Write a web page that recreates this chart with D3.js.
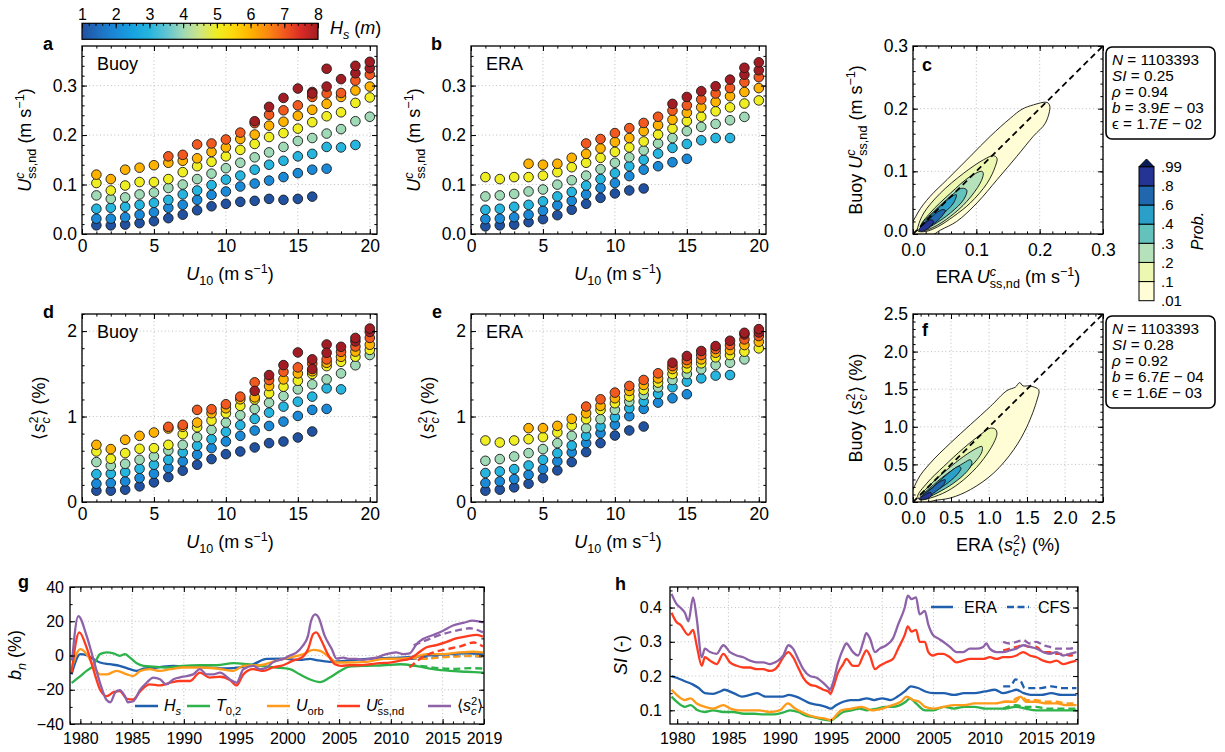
<!DOCTYPE html>
<html>
<head>
<meta charset="utf-8">
<script src="https://cdn.jsdelivr.net/npm/d3@7"></script>
<style>
  body { margin: 0; background: #fff; }
  svg { font-family: "Liberation Sans", Arial, Helvetica, sans-serif; }
  svg text { white-space: pre; }
</style>
</head>
<body>
<svg id="fig" width="1225" height="752"></svg>
<script>
// ---------------- data ----------------
const u10 = [1,2,3,4,5,6,7,8,9,10,11,12,13,14,15,16,17,18,19,20];
const hsBins = [1,2,3,4,5,6,7,8,9];

// bin means, one row per Hs bin (null = empty bin)
const buoyUss = [
  [0.0175,0.0175,0.019,0.022,0.026,0.032,0.039,0.048,0.056,0.061,0.065,0.067,0.071,0.069,0.071,0.0755,null,null,null,null],
  [0.031,0.031,0.034,0.039,0.044,0.053,0.059,0.069,0.079,0.086,0.096,0.102,0.108,0.115,0.123,0.130,0.132,null,null,null],
  [0.051,0.053,0.055,0.059,0.063,0.069,0.080,0.088,0.099,0.110,0.118,0.130,0.140,0.148,0.157,0.162,0.176,0.175,0.180,null],
  [0.078,0.071,0.074,0.080,0.084,0.093,0.100,0.111,0.122,0.133,0.144,0.155,0.165,0.176,0.188,0.194,0.203,0.212,0.228,0.237],
  [0.103,0.088,0.098,0.105,0.105,0.111,0.125,0.137,0.146,0.157,0.170,0.182,0.196,0.204,0.213,0.226,0.238,0.246,0.265,0.276],
  [0.120,0.111,0.130,0.134,0.139,0.144,0.148,0.153,0.166,0.175,0.192,0.201,0.219,0.227,0.239,0.251,0.263,0.277,0.290,0.298],
  [null,null,null,null,null,0.157,0.160,0.181,0.183,0.191,0.205,0.224,0.241,0.250,0.260,0.277,0.284,0.285,0.310,0.322],
  [null,null,null,null,null,null,null,null,null,null,null,0.228,0.257,0.275,0.294,0.287,0.298,0.313,0.325,0.335],
  [null,null,null,null,null,null,null,null,null,null,null,null,null,null,null,0.284,0.334,null,0.340,0.348]
];
const eraUss = [
  [0.0155,0.0175,0.019,0.024,0.030,0.038,0.049,0.061,0.073,0.082,0.088,0.092,null,null,null,null,null,null,null,null],
  [0.030,0.031,0.034,0.039,0.047,0.058,0.067,0.080,0.093,0.103,0.117,0.130,0.137,0.145,0.152,null,null,null,null,null],
  [0.049,0.051,0.055,0.059,0.066,0.076,0.085,0.098,0.111,0.123,0.137,0.150,0.1625,0.174,0.182,0.1895,0.194,0.194,null,null],
  [0.076,0.078,0.081,0.086,0.090,0.0998,0.1086,0.118,0.131,0.144,0.155,0.169,0.183,0.194,0.208,0.2165,0.2225,0.230,0.2367,null],
  [0.115,0.111,0.115,0.115,0.118,0.125,0.135,0.144,0.154,0.166,0.175,0.187,0.201,0.213,0.228,0.237,0.248,0.256,0.2637,0.270],
  [null,null,null,0.142,0.140,0.142,0.154,0.162,0.173,0.186,0.194,0.208,0.220,0.231,0.245,0.256,0.267,0.2785,0.287,0.295],
  [null,null,null,null,null,null,null,0.183,0.192,0.204,0.214,0.2245,0.237,0.2495,0.260,0.272,0.284,0.295,0.307,0.317],
  [null,null,null,null,null,null,null,null,null,null,null,null,null,0.263,0.277,0.2886,0.2987,0.312,0.322,0.331],
  [null,null,null,null,null,null,null,null,null,null,null,null,null,null,null,null,null,null,0.336,0.347]
];
const buoyMss = [
  [0.132,0.132,0.144,0.183,0.230,0.292,0.366,0.436,0.502,0.560,0.591,0.638,0.689,0.708,0.755,0.825,null,null,null,null],
  [0.214,0.222,0.241,0.280,0.331,0.397,0.475,0.553,0.630,0.708,0.774,0.836,0.890,0.941,1.007,1.078,1.089,null,null,null],
  [0.327,0.331,0.350,0.389,0.436,0.494,0.580,0.658,0.735,0.821,0.899,0.972,1.046,1.116,1.174,1.233,1.330,1.318,null,null],
  [0.467,0.424,0.447,0.494,0.533,0.603,0.669,0.759,0.844,0.930,1.016,1.089,1.162,1.240,1.318,1.377,1.435,1.505,1.600,1.720],
  [0.591,0.506,0.572,0.623,0.630,0.669,0.794,0.875,0.953,1.039,1.125,1.200,1.272,1.349,1.419,1.498,1.590,1.641,1.700,1.780],
  [0.669,0.619,0.728,0.774,0.813,0.860,0.880,0.930,1.039,1.097,1.202,1.225,1.357,1.435,1.505,1.530,1.629,1.699,1.760,1.840],
  [null,null,null,null,null,0.880,0.903,1.078,1.086,1.144,1.233,1.400,1.427,1.524,1.575,1.620,1.669,1.757,1.820,1.920],
  [null,null,null,null,null,null,null,null,null,null,null,1.300,1.485,1.602,1.750,1.669,1.843,1.816,1.880,1.990],
  [null,null,null,null,null,null,null,null,null,null,null,null,null,null,null,1.556,1.746,null,1.920,2.030]
];
const eraMss = [
  [0.132,0.144,0.171,0.214,0.280,0.370,0.467,0.584,0.689,0.778,0.837,0.883,null,null,null,null,null,null,null,null],
  [0.222,0.241,0.268,0.319,0.385,0.475,0.580,0.689,0.805,0.903,1.004,1.089,1.163,1.214,1.261,null,null,null,null,null],
  [0.339,0.358,0.385,0.428,0.494,0.572,0.661,0.774,0.883,0.992,1.097,1.175,1.265,1.342,1.409,1.447,1.479,1.486,null,null],
  [0.482,0.502,0.533,0.572,0.619,0.689,0.774,0.864,0.969,1.078,1.175,1.253,1.342,1.428,1.498,1.553,1.603,1.630,1.669,null],
  [0.720,0.696,0.720,0.735,0.759,0.813,0.895,0.969,1.078,1.156,1.233,1.311,1.397,1.498,1.564,1.623,1.693,1.720,1.759,1.798],
  [null,null,null,0.864,0.864,0.891,0.973,1.039,1.125,1.214,1.300,1.370,1.447,1.556,1.623,1.669,1.747,1.778,1.837,1.875],
  [null,null,null,null,null,null,null,1.117,1.202,1.280,1.358,1.428,1.506,1.591,1.661,1.720,1.790,1.837,1.903,1.942],
  [null,null,null,null,null,null,null,null,null,null,null,null,null,1.630,1.708,1.767,1.825,1.887,1.961,1.984],
  [null,null,null,null,null,null,null,null,null,null,null,null,null,null,null,null,null,null,1.980,2.023]
];

// Hs colour map
const hsStops = [1,1.5,2,2.5,3,3.5,4,4.5,5,5.5,6,6.5,7,7.5,8];
const hsColors = ["#2151a1","#1f6fc0","#1a8ad8","#17a2e0","#25b5df","#5fc5d2","#9fd9b6","#cfe684",
                  "#efee22","#fdd70c","#ffb300","#f98a10","#f2591e","#d92b25","#a11d23"];
const hsTicks = [1,2,3,4,5,6,7,8];

// joint pdf contour outlines (ERA x, Buoy y)
const probLevels = [".01",".1",".2",".3",".4",".6",".8",".99"];
const probColors = ["#fffdd6","#ecf7b1","#b5e2ba","#64c2bd","#2aa0c8","#2167ad","#253494"];
const ussContours = [
  [[-0.01,-0.01],[0.0074,0.0335],[0.027,0.060],[0.054,0.087],[0.0905,0.124],[0.122,0.156],[0.154,0.185],[0.172,0.199],[0.19,0.206],[0.2116,0.210],[0.216,0.204],[0.209,0.177],[0.19,0.156],[0.164,0.124],[0.133,0.087],[0.101,0.0495],[0.069,0.020],[0.043,0.006],[0.025,-0.005]],
  [[0.008,0.012],[0.017,0.0335],[0.043,0.065],[0.08,0.097],[0.1116,0.1186],[0.127,0.125],[0.1326,0.121],[0.13,0.108],[0.117,0.081],[0.0905,0.0495],[0.064,0.028],[0.038,0.011],[0.0195,0.004],[0.0074,0.005]],
  [[0.012,0.012],[0.027,0.0335],[0.059,0.065],[0.0905,0.092],[0.109,0.1],[0.111,0.096],[0.106,0.081],[0.085,0.052],[0.059,0.028],[0.033,0.011],[0.017,0.006]],
  [[0.014,0.015],[0.033,0.036],[0.059,0.060],[0.077,0.073],[0.085,0.070],[0.08,0.055],[0.059,0.0335],[0.033,0.015],[0.0195,0.008]],
  [[0.017,0.015],[0.038,0.039],[0.0616,0.060],[0.0684,0.0628],[0.064,0.0495],[0.043,0.028],[0.025,0.012]],
  [[0.0158,0.0122],[0.030,0.028],[0.0458,0.0388],[0.051,0.0378],[0.0432,0.0255],[0.0274,0.0133]],
  [[0.0089,0.0059],[0.0195,0.0176],[0.0274,0.0229],[0.0326,0.0202],[0.0247,0.0096],[0.0142,0.0043]]
];
const mssContours = [
  [[-0.05,-0.05],[0.061,0.296],[0.228,0.518],[0.491,0.783],[0.754,1.027],[1.018,1.27],[1.237,1.482],[1.346,1.527],[1.404,1.588],[1.447,1.544],[1.535,1.544],[1.654,1.491],[1.632,1.358],[1.5,1.004],[1.325,0.695],[1.061,0.385],[0.754,0.164],[0.491,0.053],[0.272,0.018],[0.1,-0.03]],
  [[0.061,0.075],[0.184,0.252],[0.404,0.473],[0.667,0.717],[0.886,0.894],[1.018,0.982],[1.083,0.969],[1.105,0.916],[1.061,0.783],[0.886,0.518],[0.667,0.296],[0.447,0.142],[0.228,0.053],[0.096,0.031]],
  [[0.096,0.075],[0.228,0.23],[0.447,0.429],[0.667,0.606],[0.842,0.717],[0.908,0.739],[0.908,0.673],[0.842,0.562],[0.667,0.385],[0.447,0.208],[0.228,0.085]],
  [[0.118,0.075],[0.272,0.23],[0.491,0.407],[0.667,0.518],[0.754,0.562],[0.776,0.518],[0.711,0.407],[0.535,0.252],[0.316,0.119],[0.162,0.053]],
  [[0.132,0.084],[0.272,0.208],[0.469,0.385],[0.6,0.473],[0.632,0.451],[0.579,0.363],[0.425,0.23],[0.25,0.119],[0.162,0.066]],
  [[0.118,0.075],[0.228,0.164],[0.36,0.274],[0.425,0.296],[0.404,0.23],[0.272,0.119],[0.162,0.053]],
  [[0.075,0.04],[0.162,0.097],[0.228,0.128],[0.25,0.097],[0.184,0.044]]
];
const ussStats = ["1103393","0.25","0.94","3.9","03","1.7","02"];
const mssStats = ["1103393","0.28","0.92","6.7","04","1.6","03"];

// normalised bias b_n (%), ERA (solid) and CFS (dashed), [year, value]
const biasHs = [[1979.15,-11],[1980,0.8],[1980.6,0.2],[1981.25,-2],[1981.9,-4.1],[1982.85,-5.1],[1983.8,-6],[1984.8,-8],[1985.45,-9],[1986.1,-7.6],[1987.4,-7],[1989,-6],[1990.6,-6.5],[1992.2,-7],[1994.15,-7.6],[1995.4,-7],[1996.7,-5.1],[1998,-2],[1999.6,-1.8],[2001.2,-2.6],[2002.2,-2],[2002.8,-2.7],[2004.1,-3.7],[2005.7,-3],[2007.65,-2],[2009.25,-1.6],[2010.9,-1.2],[2012.5,-0.6],[2014.1,0.2],[2015.7,0.8],[2017.3,1.2],[2018.9,0.8]];
const biasT02 = [[1979.15,-16],[1980,-12],[1980.6,-9],[1981.25,-6],[1981.9,0.8],[1982.55,1.8],[1983.2,1.2],[1983.8,-0.2],[1984.3,0.8],[1984.8,-1.2],[1985.45,-4.5],[1986.1,-6],[1987.05,-6.5],[1988.3,-7],[1989.9,-6],[1991.55,-5.7],[1993.2,-5.7],[1994.8,-4.5],[1996.1,-5.1],[1997.35,-6],[1998.95,-7],[2000.25,-8],[2001.2,-11],[2002.2,-14],[2003.15,-15.5],[2004.1,-12.9],[2005.1,-9],[2006,-6.5],[2007.65,-6],[2009.25,-5.7],[2010.9,-5.1],[2012.5,-6.2],[2014.1,-8],[2015.7,-9],[2017.3,-9.5],[2018.9,-10]];
const biasUorb = [[1979.15,-8],[1980,3.7],[1980.6,0.8],[1981.25,-6],[1981.9,-11],[1982.55,-11],[1983.5,-9],[1984.5,-11],[1985.1,-12],[1985.8,-9],[1986.7,-8],[1987.7,-9],[1988.7,-8],[1989.9,-7],[1991.55,-7],[1993.2,-7.6],[1994.8,-9],[1995.75,-6],[1997.35,-5.7],[1998.95,-3],[2000.25,-1.2],[2001.55,0.8],[2002.5,3.3],[2003.15,2.7],[2004.1,-1.2],[2004.75,-4.1],[2006,-4.1],[2007.65,-3.7],[2009.25,-2],[2010.9,-1.8],[2012.15,-1.2],[2013.45,0.8],[2015.05,0.8],[2016.65,1.8],[2017.95,2.2],[2018.9,1.8]];
const biasUss = [[1979.15,-10],[1979.9,13.5],[1980.6,4.7],[1981.25,-8],[1981.9,-19.8],[1982.55,-23.7],[1983.2,-21.4],[1983.8,-20.8],[1984.5,-25.3],[1985.1,-25.7],[1985.8,-20.8],[1986.7,-16.9],[1987.7,-17.5],[1988.7,-15.9],[1989.6,-14.9],[1990.6,-14.9],[1991.55,-10],[1992.5,-12.9],[1993.5,-12.4],[1994.45,-14.3],[1995.1,-17.5],[1995.75,-11],[1996.7,-8],[1997.7,-9],[1998.6,-7],[1999.6,-5.7],[2000.55,-3],[2001.4,-1.2],[2002,3.7],[2002.5,12.5],[2002.8,13.5],[2003.3,8.6],[2003.9,0.8],[2004.6,-5.1],[2005.2,-6],[2006,-5.7],[2007,-5.7],[2008,-5.1],[2008.9,-4.5],[2009.9,-4.1],[2010.9,-3],[2011.8,-2],[2012.5,0.8],[2013.4,4.7],[2014.4,6.1],[2015.4,8],[2016.3,10],[2017.3,11.2],[2018.3,12],[2018.9,11]];
const biasMss = [[1979.2,-3],[1979.8,23],[1980.6,11.6],[1981.25,-2],[1981.9,-16],[1982.5,-25.7],[1982.9,-27.3],[1983.35,-21.8],[1983.8,-20.2],[1984.3,-23.7],[1984.6,-27.3],[1985.1,-26.7],[1985.8,-19.8],[1986.4,-15.9],[1987.05,-12.9],[1987.7,-13.9],[1988.3,-16.9],[1989,-13.9],[1989.9,-12.4],[1990.9,-11],[1991.55,-8],[1992.2,-11],[1992.85,-11],[1993.5,-10],[1994.45,-14],[1995.1,-15.9],[1995.75,-8],[1996.7,-6],[1997.35,-8],[1998,-7],[1998.6,-4],[1999.6,-2],[2000.25,0],[2000.9,1.8],[2001.5,5.7],[2002,11.6],[2002.3,20.4],[2002.7,24],[2003,22.4],[2003.6,11.6],[2004.3,3.7],[2004.75,-1.8],[2005.4,-1.2],[2006,-2],[2006.7,-2],[2007.3,-2.6],[2008,-1.8],[2008.6,-1.2],[2009.25,0.2],[2009.9,1.2],[2010.5,1.8],[2011.2,0.8],[2011.8,1.2],[2012.5,6.7],[2013.1,9.6],[2014.1,12],[2015.05,14.5],[2016,17.5],[2017,19],[2017.9,20.4],[2018.9,19.4]];
const biasHsCfs = [[2011.8,-2],[2013.8,-1.4],[2015.4,-0.6],[2017,-0.2],[2018.9,-0.6]];
const biasT02Cfs = [[2011.8,-5.7],[2013.1,-6.2],[2014.7,-7.5],[2016.3,-7.8],[2017.6,-7.4],[2018.9,-7.6]];
const biasUorbCfs = [[2011.8,-1.2],[2013.1,-2],[2014.7,-1.2],[2016.3,-0.6],[2017.6,-0.2],[2018.9,-0.6]];
const biasUssCfs = [[2011.8,-7],[2012.8,-2],[2014.1,1.8],[2015.4,3.7],[2016.7,5.3],[2018,7.6],[2018.9,5.3]];
const biasMssCfs = [[2012.2,6],[2013.7,9.6],[2015,12.5],[2016.3,14.5],[2017.6,15.9],[2018.9,13.5]];

// scatter index SI (-)
const siHs = [[1979.45,0.20],[1979.95,0.195],[1980.75,0.185],[1981.55,0.175],[1982.1,0.165],[1982.7,0.15],[1983.5,0.148],[1984.2,0.155],[1984.6,0.16],[1985.5,0.15],[1986.3,0.14],[1987.1,0.145],[1987.8,0.15],[1988.6,0.14],[1989.5,0.14],[1990.3,0.14],[1990.9,0.145],[1991.6,0.14],[1992.3,0.13],[1993,0.12],[1993.9,0.115],[1994.5,0.11],[1995,0.105],[1995.5,0.115],[1996.2,0.125],[1996.9,0.13],[1997.7,0.13],[1998.5,0.135],[1999.2,0.13],[2000,0.135],[2000.8,0.13],[2001.5,0.14],[2002.2,0.155],[2002.8,0.17],[2003.5,0.165],[2004.2,0.155],[2005,0.15],[2006,0.15],[2007,0.145],[2008,0.15],[2009,0.15],[2010,0.155],[2011,0.16],[2011.8,0.15],[2012.5,0.155],[2013.1,0.16],[2013.8,0.15],[2014.5,0.145],[2015.5,0.145],[2016.5,0.15],[2017.5,0.145],[2018.95,0.145]];
const siT02 = [[1979.45,0.14],[1979.95,0.125],[1980.75,0.11],[1981.3,0.115],[1982,0.10],[1982.7,0.095],[1983.5,0.10],[1984.5,0.095],[1985.5,0.095],[1986.5,0.09],[1987.5,0.09],[1988.5,0.088],[1989.5,0.088],[1990.5,0.095],[1991,0.10],[1991.8,0.095],[1992.5,0.085],[1993.3,0.08],[1994.3,0.073],[1995,0.07],[1995.5,0.08],[1996.2,0.095],[1997,0.10],[1997.8,0.105],[1998.5,0.10],[1999.5,0.105],[2000.3,0.11],[2001,0.11],[2002.3,0.125],[2002.7,0.135],[2003.3,0.12],[2004.2,0.10],[2005,0.10],[2006,0.11],[2007,0.105],[2008,0.11],[2009,0.11],[2010,0.105],[2011,0.105],[2012,0.105],[2013,0.11],[2014,0.105],[2015,0.10],[2016,0.10],[2017,0.10],[2018,0.10],[2018.95,0.10]];
const siUorb = [[1979.45,0.16],[1979.95,0.145],[1980.75,0.13],[1981.3,0.135],[1981.9,0.12],[1982.7,0.11],[1983.5,0.105],[1984.5,0.115],[1985.2,0.105],[1986,0.10],[1987,0.10],[1988,0.10],[1989,0.095],[1990,0.10],[1990.8,0.12],[1991.5,0.105],[1992.5,0.09],[1993.5,0.08],[1994.5,0.075],[1995,0.072],[1995.5,0.085],[1996,0.10],[1997,0.105],[1998,0.11],[1999,0.10],[2000,0.105],[2001,0.115],[2001.8,0.125],[2002.4,0.14],[2003,0.13],[2003.6,0.125],[2004.2,0.11],[2005,0.105],[2006,0.11],[2007,0.115],[2008,0.115],[2009,0.12],[2010,0.12],[2011,0.12],[2012,0.125],[2013,0.125],[2013.5,0.14],[2014,0.125],[2015,0.125],[2016,0.12],[2017,0.12],[2018,0.115],[2018.95,0.115]];
const siUss = [[1979.45,0.385],[1979.95,0.357],[1980.3,0.35],[1981.1,0.32],[1981.55,0.335],[1981.9,0.29],[1982.4,0.23],[1982.7,0.255],[1983.2,0.245],[1983.85,0.235],[1984.5,0.265],[1985.15,0.24],[1985.8,0.23],[1986.45,0.225],[1987.1,0.225],[1987.75,0.22],[1988.4,0.22],[1989.05,0.215],[1989.55,0.22],[1989.85,0.23],[1990.35,0.255],[1990.85,0.27],[1991.3,0.255],[1991.8,0.225],[1992.3,0.195],[1992.95,0.175],[1993.6,0.17],[1994.25,0.16],[1994.75,0.155],[1994.95,0.148],[1995.2,0.165],[1995.7,0.21],[1996.2,0.235],[1996.5,0.25],[1997.15,0.23],[1997.65,0.23],[1998.15,0.26],[1998.45,0.275],[1998.8,0.26],[1999.3,0.22],[1999.75,0.23],[2000.4,0.24],[2001.05,0.25],[2001.55,0.28],[2002.2,0.32],[2002.5,0.345],[2002.85,0.33],[2003.3,0.335],[2003.65,0.30],[2004.15,0.30],[2004.5,0.27],[2004.95,0.26],[2005.45,0.265],[2005.95,0.265],[2006.6,0.255],[2007.25,0.24],[2007.9,0.245],[2008.55,0.25],[2009.2,0.25],[2009.85,0.25],[2010.5,0.255],[2011.15,0.25],[2011.8,0.255],[2012.45,0.255],[2013.1,0.26],[2013.75,0.27],[2014.4,0.26],[2015.05,0.255],[2015.7,0.245],[2016.35,0.24],[2017,0.245],[2017.65,0.235],[2018.3,0.24],[2018.95,0.245]];
const siMss = [[1979.45,0.44],[1979.95,0.41],[1980.3,0.40],[1980.75,0.385],[1981.1,0.36],[1981.55,0.43],[1981.9,0.37],[1982.4,0.255],[1982.7,0.28],[1983.2,0.27],[1983.85,0.265],[1984.5,0.29],[1985.15,0.27],[1985.8,0.26],[1986.45,0.255],[1987.1,0.245],[1987.75,0.24],[1988.4,0.24],[1989.05,0.235],[1989.55,0.24],[1989.85,0.245],[1990.35,0.26],[1990.85,0.29],[1991.3,0.28],[1991.8,0.25],[1992.3,0.22],[1992.95,0.20],[1993.6,0.195],[1994.25,0.18],[1994.75,0.165],[1994.9,0.16],[1995.2,0.18],[1995.7,0.24],[1996.2,0.28],[1996.5,0.295],[1997.15,0.27],[1997.65,0.26],[1998.15,0.30],[1998.45,0.325],[1998.8,0.31],[1999.3,0.27],[1999.75,0.28],[2000.4,0.29],[2001.05,0.31],[2001.55,0.35],[2002.2,0.40],[2002.5,0.435],[2002.85,0.425],[2003.3,0.43],[2003.65,0.38],[2004.15,0.39],[2004.5,0.35],[2004.95,0.32],[2005.45,0.31],[2005.95,0.30],[2006.6,0.285],[2007.25,0.27],[2007.9,0.27],[2008.55,0.28],[2009.2,0.28],[2009.85,0.285],[2010.15,0.295],[2010.5,0.28],[2011.15,0.27],[2011.8,0.27],[2012.45,0.275],[2013.1,0.28],[2013.75,0.29],[2014.4,0.285],[2015.05,0.28],[2015.7,0.27],[2016.35,0.265],[2017,0.27],[2017.65,0.26],[2018.3,0.265],[2018.95,0.27]];
const siHsCfs = [[2011.8,0.17],[2012.5,0.17],[2013,0.19],[2013.5,0.185],[2013.9,0.165],[2014.5,0.165],[2015.5,0.165],[2016.5,0.17],[2017.5,0.165],[2018.95,0.165]];
const siT02Cfs = [[2011.8,0.105],[2013,0.115],[2014,0.11],[2015,0.11],[2016,0.105],[2017,0.105],[2018.95,0.105]];
const siUorbCfs = [[2011.8,0.125],[2012.5,0.125],[2013.1,0.135],[2013.6,0.14],[2014.1,0.13],[2015,0.13],[2016,0.125],[2017,0.125],[2018,0.12],[2018.95,0.12]];
const siUssCfs = [[2011.8,0.275],[2012.45,0.28],[2013.1,0.285],[2013.75,0.29],[2014.4,0.285],[2015.05,0.285],[2015.7,0.27],[2016.35,0.27],[2017,0.265],[2017.65,0.265],[2018.3,0.26],[2018.95,0.265]];
const siMssCfs = [[2011.8,0.30],[2012.45,0.295],[2013.1,0.30],[2013.75,0.305],[2014.4,0.295],[2015.05,0.30],[2015.7,0.29],[2016.35,0.285],[2017,0.28],[2017.65,0.28],[2018.3,0.28],[2018.95,0.285]];

const seriesColors = {hs: "#1f5fad", t02: "#2db34a", uorb: "#ff9a1a", uss: "#ff3b1f", mss: "#8e62a8"};

// axis ticks
const uTicks = [0,5,10,15,20];
const ussTicks = [0,0.1,0.2,0.3];
const mssTicks = [0,1,2];
const ussPdfTicks = [0,0.1,0.2,0.3];
const mssPdfTicks = [0,0.5,1,1.5,2,2.5];
const yearTicks = [1980,1985,1990,1995,2000,2005,2010,2015,2019];
const biasTicks = [-40,-20,0,20,40];
const siTicks = [0.1,0.2,0.3,0.4];

// ---------------- drawing ----------------
const svg = d3.select("#fig");
const hsColor = d3.scaleLinear().domain(hsStops).range(hsColors).clamp(true);
let clipN = 0;

// one <text> per label, scripts as tspans; a "stack" part sits under/over the previous script
function rich(parent, parts, o) {
  const fs = o.size || 18;
  const g = parent.append("g")
    .attr("transform", `translate(${o.x},${o.y})` + (o.rot ? ` rotate(${o.rot})` : ""));
  const t = g.append("text").attr("font-size", fs);
  let cur = 0, scriptW = 0, pending = 0;
  parts.forEach(p => {
    const script = p.sup || p.sub;
    const target = p.sup ? -fs * 0.4 : p.sub ? fs * 0.26 : 0;
    const ts = t.append("tspan").attr("font-size", script ? fs * 0.7 : null)
      .attr("font-style", p.it ? "italic" : null).text(p.t);
    if (target !== cur) { ts.attr("dy", target - cur); cur = target; }
    const w = ts.node().getComputedTextLength();
    let dx = pending; pending = 0;
    if (p.stack) { dx -= scriptW; if (w < scriptW) pending = scriptW - w; }
    if (dx) ts.attr("dx", dx);
    if (script && !p.stack) scriptW = w;
  });
  const W = t.node().getBBox().width;
  if (o.anchor === "middle") t.attr("x", -W / 2);
  else if (o.anchor === "end") t.attr("x", -W);
  return g;
}

function panel(o) {
  const x = d3.scaleLinear().domain(o.xd).range([o.x0, o.x1]);
  const y = d3.scaleLinear().domain(o.yd).range([o.y1, o.y0]);
  const g = svg.append("g");
  const id = "clip" + (clipN++);
  svg.append("clipPath").attr("id", id).append("rect")
    .attr("x", o.x0).attr("y", o.y0).attr("width", o.x1 - o.x0).attr("height", o.y1 - o.y0);
  const grid = g.append("g").attr("stroke", "#b8b8b8").attr("stroke-width", 0.9).attr("stroke-dasharray", "1,2.6");
  grid.selectAll(".gx").data(o.xg || o.xt).join("line")
    .attr("x1", d => x(d)).attr("x2", d => x(d)).attr("y1", o.y0).attr("y2", o.y1);
  grid.selectAll(".gy").data(o.yg || o.yt).join("line")
    .attr("y1", d => y(d)).attr("y2", d => y(d)).attr("x1", o.x0).attr("x2", o.x1);
  const marks = g.append("g").attr("clip-path", `url(#${id})`);
  return {x, y, g, marks, o};
}

function finish(p) {
  const o = p.o, g = p.g, fs = o.fs || 17.5;
  const ax = (axis, tf) => g.append("g").attr("transform", tf).call(axis).call(s => {
    s.select(".domain").remove();
    s.attr("font-family", null).attr("font-size", null);
    s.selectAll("text").attr("font-size", fs).attr("fill", "#000");
  });
  const xm = o.xm || [], ym = o.ym || [];
  ax(d3.axisBottom(p.x).tickValues(xm).tickFormat("").tickSizeInner(-2.6).tickSizeOuter(0), `translate(0,${o.y1})`);
  ax(d3.axisTop(p.x).tickValues(xm).tickFormat("").tickSizeInner(-2.6).tickSizeOuter(0), `translate(0,${o.y0})`);
  ax(d3.axisLeft(p.y).tickValues(ym).tickFormat("").tickSizeInner(-2.6).tickSizeOuter(0), `translate(${o.x0},0)`);
  ax(d3.axisRight(p.y).tickValues(ym).tickFormat("").tickSizeInner(-2.6).tickSizeOuter(0), `translate(${o.x1},0)`);
  ax(d3.axisBottom(p.x).tickValues(o.xt).tickFormat(o.xf).tickSizeInner(-5).tickSizeOuter(0).tickPadding(o.xpad || 6), `translate(0,${o.y1})`);
  ax(d3.axisTop(p.x).tickValues(o.xt).tickFormat("").tickSizeInner(-5).tickSizeOuter(0), `translate(0,${o.y0})`);
  const left = ax(d3.axisLeft(p.y).tickValues(o.yt).tickFormat(o.yf).tickSizeInner(-5).tickSizeOuter(0).tickPadding(o.ypad || 5), `translate(${o.x0},0)`);
  // corner label sits a touch higher so it clears the x-axis "0.0"
  if (o.liftZero) left.selectAll(".tick").filter(d => d === 0).select("text").attr("dy", "0.15em");
  ax(d3.axisRight(p.y).tickValues(o.yt).tickFormat("").tickSizeInner(-5).tickSizeOuter(0), `translate(${o.x1},0)`);
  g.append("rect").attr("x", o.x0).attr("y", o.y0).attr("width", o.x1 - o.x0).attr("height", o.y1 - o.y0)
    .attr("fill", "none").attr("stroke", "#000").attr("stroke-width", 1.3);
}

function scatter(p, rows) {
  const pts = [];
  rows.forEach((row, i) => row.forEach((v, j) => { if (v != null) pts.push({u: u10[j], v, hs: hsBins[i]}); }));
  p.marks.append("g").selectAll("circle").data(pts).join("circle")
    .attr("cx", d => p.x(d.u)).attr("cy", d => p.y(d.v)).attr("r", 4.8)
    .attr("fill", d => hsColor(d.hs)).attr("stroke", "#1a1a1a").attr("stroke-width", 0.9);
}

function contours(p, polys, maxv) {
  const line = d3.line().x(d => p.x(d[0])).y(d => p.y(d[1])).curve(d3.curveCatmullRomClosed.alpha(0.5));
  p.marks.append("g").selectAll("path").data(polys).join("path")
    .attr("d", line).attr("fill", (d, i) => probColors[i]).attr("stroke", "#111").attr("stroke-width", 0.9);
  p.marks.append("line").attr("x1", p.x(0)).attr("y1", p.y(0)).attr("x2", p.x(maxv)).attr("y2", p.y(maxv))
    .attr("stroke", "#000").attr("stroke-width", 1.8).attr("stroke-dasharray", "6,4");
}

function series(p, data, color, dashed) {
  const line = d3.line().x(d => p.x(d[0])).y(d => p.y(d[1])).curve(d3.curveMonotoneX);
  p.marks.append("path").datum(data).attr("d", line).attr("fill", "none")
    .attr("stroke", color).attr("stroke-width", 2.3)
    .attr("stroke-dasharray", dashed ? "7,4" : null);
}

const fmt1 = d3.format(".1f");
const fmt0 = d3.format("d");

// label parts
const ussParts = [{t:"U",it:1},{t:"c",sup:1,it:1},{t:"ss,nd",sub:1,stack:1}];
const unitMs = [{t:" (m s"},{t:"−1",sup:1},{t:")"}];
const u10Parts = [{t:"U",it:1},{t:"10",sub:1}].concat(unitMs);
const mssParts = [{t:"⟨"},{t:"s",it:1},{t:"2",sup:1},{t:"c",sub:1,it:1,stack:1},{t:"⟩"}];

// --- row 1 ---
const pa = panel({x0:82,x1:377,y0:46,y1:234,xd:[0,20.5],yd:[0,0.38],xt:uTicks,yt:ussTicks,
  xm:d3.range(0,21,1),ym:d3.range(0,0.38,0.02),xf:fmt0,yf:fmt1});
scatter(pa, buoyUss); finish(pa);
const pb = panel({x0:471,x1:766,y0:46,y1:234,xd:[0,20.5],yd:[0,0.38],xt:uTicks,yt:ussTicks,
  xm:d3.range(0,21,1),ym:d3.range(0,0.38,0.02),xf:fmt0,yf:fmt1});
scatter(pb, eraUss); finish(pb);
const pc = panel({x0:913,x1:1103,y0:46,y1:234,xd:[0,0.3],yd:[0,0.3],xt:ussPdfTicks,yt:ussPdfTicks,
  xm:d3.range(0,0.301,0.02),ym:d3.range(0,0.301,0.02),xf:fmt1,yf:fmt1,xpad:10,liftZero:true});
contours(pc, ussContours, 0.3); finish(pc);

// --- row 2 ---
const pd = panel({x0:82,x1:377,y0:314,y1:502,xd:[0,20.5],yd:[0,2.2],xt:uTicks,yt:mssTicks,
  xm:d3.range(0,21,1),ym:d3.range(0,2.21,0.2),xf:fmt0,yf:fmt0});
scatter(pd, buoyMss); finish(pd);
const pe = panel({x0:471,x1:766,y0:314,y1:502,xd:[0,20.5],yd:[0,2.2],xt:uTicks,yt:mssTicks,
  xm:d3.range(0,21,1),ym:d3.range(0,2.21,0.2),xf:fmt0,yf:fmt0});
scatter(pe, eraMss); finish(pe);
const pf = panel({x0:913,x1:1103,y0:314,y1:502,xd:[0,2.5],yd:[0,2.5],xt:mssPdfTicks,yt:mssPdfTicks,
  xm:d3.range(0,2.51,0.1),ym:d3.range(0,2.51,0.1),xf:fmt1,yf:fmt1,xpad:10,liftZero:true});
contours(pf, mssContours, 2.5); finish(pf);

// --- row 3 ---
const yearFmt = d => String(d);
const pg = panel({x0:70,x1:484,y0:587,y1:724,xd:[1979,2019],yd:[-40,40],xt:yearTicks,yt:biasTicks,
  xg:yearTicks.slice(1,8),yg:[-20,0,20],xm:d3.range(1979,2019,1),ym:d3.range(-40,41,10),xf:yearFmt,yf:d3.format("d"),fs:16,xpad:9,ypad:6});
series(pg, biasHs, seriesColors.hs); series(pg, biasHsCfs, seriesColors.hs, true);
series(pg, biasT02, seriesColors.t02); series(pg, biasT02Cfs, seriesColors.t02, true);
series(pg, biasUorb, seriesColors.uorb); series(pg, biasUorbCfs, seriesColors.uorb, true);
series(pg, biasUss, seriesColors.uss); series(pg, biasUssCfs, seriesColors.uss, true);
series(pg, biasMss, seriesColors.mss); series(pg, biasMssCfs, seriesColors.mss, true);
finish(pg);

const ph = panel({x0:670,x1:1078,y0:587,y1:724,xd:[1979.3,2019.1],yd:[0.06,0.46],xt:yearTicks,yt:siTicks,
  xg:yearTicks.slice(1,8),xm:d3.range(1980,2020,1),ym:d3.range(0.1,0.46,0.05),xf:yearFmt,yf:fmt1,fs:16,xpad:9,ypad:8});
series(ph, siHs, seriesColors.hs); series(ph, siHsCfs, seriesColors.hs, true);
series(ph, siT02, seriesColors.t02); series(ph, siT02Cfs, seriesColors.t02, true);
series(ph, siUorb, seriesColors.uorb); series(ph, siUorbCfs, seriesColors.uorb, true);
series(ph, siUss, seriesColors.uss); series(ph, siUssCfs, seriesColors.uss, true);
series(ph, siMss, seriesColors.mss); series(ph, siMssCfs, seriesColors.mss, true);
finish(ph);

// --- axis titles ---
const T = svg.append("g").attr("fill", "#000");
rich(T, ussParts.concat(unitMs), {x:31, y:140, rot:-90, anchor:"middle", size:18});
rich(T, ussParts.concat(unitMs), {x:420, y:140, rot:-90, anchor:"middle", size:18});
rich(T, [{t:"Buoy "}].concat(ussParts, unitMs), {x:862, y:140, rot:-90, anchor:"middle", size:18});
rich(T, u10Parts, {x:230, y:280, anchor:"middle", size:18});
rich(T, u10Parts, {x:618, y:280, anchor:"middle", size:18});
rich(T, [{t:"ERA "}].concat(ussParts, unitMs), {x:1008, y:283, anchor:"middle", size:18});
rich(T, mssParts.concat([{t:" (%)"}]), {x:45, y:408, rot:-90, anchor:"middle", size:18});
rich(T, mssParts.concat([{t:" (%)"}]), {x:434, y:408, rot:-90, anchor:"middle", size:18});
rich(T, [{t:"Buoy "}].concat(mssParts, [{t:" (%)"}]), {x:862, y:408, rot:-90, anchor:"middle", size:18});
rich(T, u10Parts, {x:230, y:548, anchor:"middle", size:18});
rich(T, u10Parts, {x:618, y:548, anchor:"middle", size:18});
rich(T, [{t:"ERA "}].concat(mssParts, [{t:" (%)"}]), {x:1008, y:551, anchor:"middle", size:18});
rich(T, [{t:"b",it:1},{t:"n",sub:1,it:1},{t:" (%)"}], {x:21, y:655, rot:-90, anchor:"middle", size:18});
rich(T, [{t:"SI",it:1},{t:" (-)"}], {x:627, y:655, rot:-90, anchor:"middle", size:18});

// dataset tags and panel letters
[[pa,"Buoy"],[pb,"ERA"],[pd,"Buoy"],[pe,"ERA"]].forEach(([p, s]) =>
  T.append("text").attr("x", p.o.x0 + 15).attr("y", p.o.y0 + 24).attr("font-size", 18).text(s));
[["a",43,50],["b",431,50],["c",922,71],["d",43,318],["e",432,318],["f",922,336],["g",18,588],["h",615,590]]
  .forEach(([s, x, y]) => T.append("text").attr("x", x).attr("y", y).attr("font-size", 18).attr("font-weight", "bold").text(s));

// stats boxes
function statsBox(x, y, st) {
  svg.append("rect").attr("x", x).attr("y", y).attr("width", 109).attr("height", 92).attr("rx", 6)
    .attr("fill", "#fff").attr("stroke", "#000").attr("stroke-width", 1.6);
  const lines = [
    [{t:"N",it:1},{t:" = " + st[0]}],
    [{t:"SI",it:1},{t:" = " + st[1]}],
    [{t:"ρ",it:1},{t:" = " + st[2]}],
    [{t:"b",it:1},{t:" = " + st[3]},{t:"E",it:1},{t:" − " + st[4]}],
    [{t:"ϵ"},{t:" = " + st[5]},{t:"E",it:1},{t:" − " + st[6]}]
  ];
  lines.forEach((l, i) => rich(svg, l, {x: x + 6, y: y + 18 + i * 16.1, size: 15.3}));
}
statsBox(1106, 47, ussStats);
statsBox(1106, 316, mssStats);

// Hs colour bar (top)
const cbx = d3.scaleLinear().domain([1, 8]).range([82, 318]);
const grad = svg.append("defs").append("linearGradient").attr("id", "hsgrad");
hsStops.forEach((s, i) => grad.append("stop").attr("offset", (s - 1) / 7).attr("stop-color", hsColors[i]));
svg.append("rect").attr("x", 82).attr("y", 23.3).attr("width", 236).attr("height", 16)
  .attr("fill", "url(#hsgrad)").attr("stroke", "#000").attr("stroke-width", 1.2);
const cbg = svg.append("g").attr("transform", "translate(0,23.3)");
cbg.append("g").call(d3.axisTop(cbx).tickValues(d3.range(1, 8.01, 0.2)).tickFormat("").tickSizeInner(-2.6).tickSizeOuter(0));
cbg.append("g").call(d3.axisTop(cbx).tickValues(hsTicks).tickFormat(fmt0).tickSizeInner(-5).tickSizeOuter(0).tickPadding(3));
cbg.selectAll(".domain").remove();
cbg.selectAll("g").attr("font-family", null).attr("font-size", null);
cbg.selectAll("text").attr("font-size", 16).attr("fill", "#000");
rich(svg, [{t:"H",it:1},{t:"s",sub:1,it:1},{t:" ("},{t:"m",it:1},{t:")"}], {x:330, y:34, size:18});

// probability colour bar (right)
const py = d3.scaleLinear().domain([0, 7]).range([300.7, 166.7]);
const pcb = svg.append("g");
pcb.selectAll("rect").data(probColors).join("rect")
  .attr("x", 1139).attr("width", 15).attr("y", (d, i) => py(i + 1)).attr("height", (d, i) => py(i) - py(i + 1))
  .attr("fill", d => d).attr("stroke", "#000").attr("stroke-width", 1);
pcb.append("path").attr("d", `M1139,${py(7)}L1146.5,159L1154,${py(7)}Z`).attr("fill", "#081d58").attr("stroke", "#000").attr("stroke-width", 1);
pcb.selectAll("text").data(probLevels).join("text")
  .attr("x", 1161).attr("y", (d, i) => py(i)).attr("dy", "0.35em").attr("font-size", 15).text(d => d);
T.append("text").attr("transform", "translate(1203,231) rotate(-90)").attr("text-anchor", "middle")
  .attr("font-size", 16).attr("font-style", "italic").text("Prob.");

// legends
const legG = [
  [135, [{t:"H",it:1},{t:"s",sub:1,it:1}], seriesColors.hs],
  [187, [{t:"T",it:1},{t:"0,2",sub:1}], seriesColors.t02],
  [267, [{t:"U",it:1},{t:"orb",sub:1}], seriesColors.uorb],
  [337, ussParts, seriesColors.uss],
  [428, mssParts, seriesColors.mss]
];
legG.forEach(([x, parts, c]) => {
  svg.append("line").attr("x1", x).attr("x2", x + 23).attr("y1", 706).attr("y2", 706).attr("stroke", c).attr("stroke-width", 2.5);
  rich(svg, parts, {x: x + 29, y: 711, size: 16});
});
svg.append("line").attr("x1", 931).attr("x2", 953).attr("y1", 607).attr("y2", 607).attr("stroke", seriesColors.hs).attr("stroke-width", 2.5);
svg.append("text").attr("x", 964).attr("y", 612.5).attr("font-size", 16).text("ERA");
svg.append("line").attr("x1", 1007).attr("x2", 1029).attr("y1", 607).attr("y2", 607).attr("stroke", seriesColors.hs).attr("stroke-width", 2.5).attr("stroke-dasharray", "7,3.5");
svg.append("text").attr("x", 1038).attr("y", 612.5).attr("font-size", 16).text("CFS");
</script>
</body>
</html>
